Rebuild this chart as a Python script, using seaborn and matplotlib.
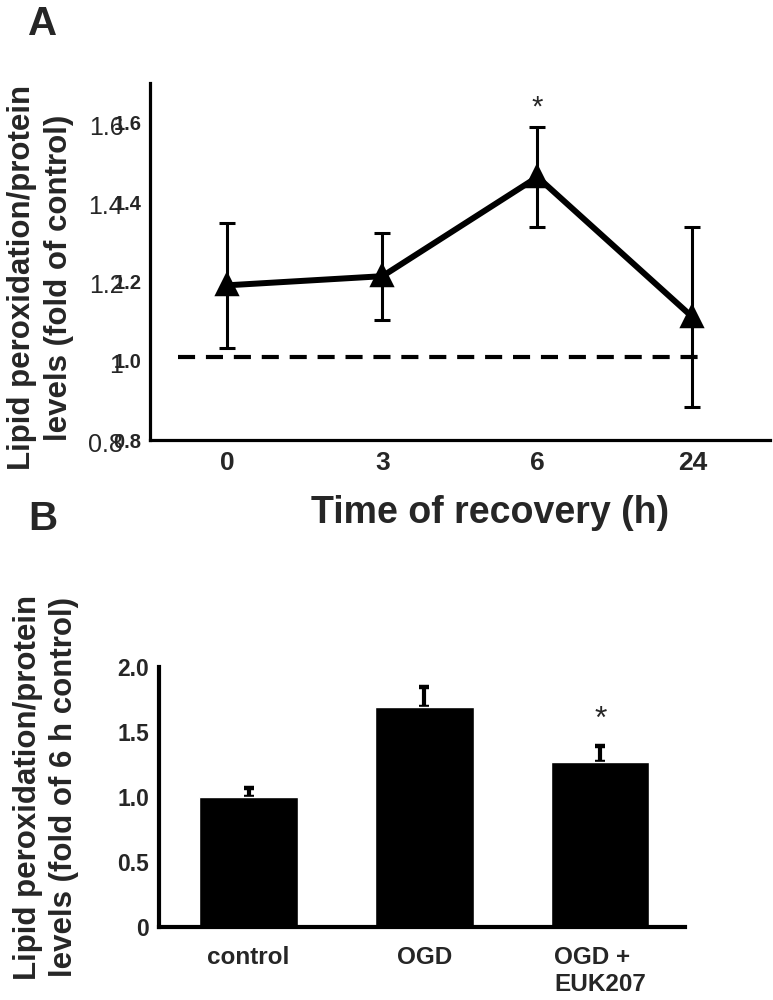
import matplotlib
matplotlib.use("Agg")
import matplotlib.pyplot as plt
import matplotlib.transforms as mtransforms
import seaborn as sns
import pandas as pd

# ---------------- data ----------------
times = ["0", "3", "6", "24"]
lipid_a = [1.19, 1.213, 1.463, 1.11]
err_a = [0.158, 0.11, 0.125, 0.226]
ref_level = 1.01
sig_a = [False, False, True, False]

yticks_a = [0.8, 1.0, 1.2, 1.4, 1.6]
yticklabels_a = ["0.8", "1.0", "1.2", "1.4", "1.6"]
yticklabels_a_alt = ["0.8", "1", "1.2", "1.4", "1.6"]

groups = ["control", "OGD", "OGD +\nEUK207"]
lipid_b = [1.0, 1.69, 1.27]
err_b = [0.07, 0.16, 0.12]
sig_b = [False, False, True]
yticks_b = [0, 0.5, 1.0, 1.5, 2.0]
yticklabels_b = ["0", "0.5", "1.0", "1.5", "2.0"]

# ---------------- style ----------------
sns.set_style("white")
plt.rcParams["font.family"] = ["Liberation Sans", "DejaVu Sans"]
plt.rcParams["font.weight"] = "bold"

fig = plt.figure(figsize=(7.73, 10), dpi=100)
axA = fig.add_axes([0.194, 0.56, 0.802, 0.357])
axB = fig.add_axes([0.2057, 0.073, 0.680, 0.26])

# ---------------- panel A ----------------
dfA = pd.DataFrame({"time": times, "value": lipid_a})
sns.pointplot(data=dfA, x="time", y="value", order=times, color="black",
              markers="^", linestyles="-", errorbar=None, ax=axA,
              markersize=12.5, linewidth=4.3)
axA.errorbar(x=list(range(len(times))), y=lipid_a, yerr=err_a, fmt="none",
             ecolor="black", elinewidth=2.2, capsize=5.5, capthick=2.2, zorder=1)
axA.hlines(ref_level, -0.32, 3.1, colors="black", linestyles=(0, (4.1, 2.6)),
           linewidth=3)
for i, s in enumerate(sig_a):
    if s:
        axA.text(i, lipid_a[i] + err_a[i] + 0.05, "*", ha="center", va="center",
                 fontsize=21, fontweight="normal")

axA.set_xlim(-0.5, 3.5)
axA.set_ylim(0.8, 1.7)
axA.set_yticks(yticks_a)
axA.set_yticklabels(yticklabels_a, fontsize=14.5, fontweight="bold")
axA.set_xticks(range(len(times)))
axA.set_xticklabels(times, fontsize=19, fontweight="bold")
axA.tick_params(axis="y", direction="in", length=7, width=2.5, pad=6)
axA.tick_params(axis="x", direction="in", length=8, width=1.5, pad=8)
sns.despine(ax=axA)
for sp in ["left", "bottom"]:
    axA.spines[sp].set_linewidth(2.3)
    axA.spines[sp].set_color("black")

# duplicated (overprinted) larger regular tick labels, as in the original
trans = mtransforms.blended_transform_factory(axA.transAxes, axA.transData)
trans = mtransforms.offset_copy(trans, fig=fig, x=0, y=-5, units="dots")
for v, t in zip(yticks_a, yticklabels_a_alt):
    axA.text(-0.043, v, t, transform=trans, ha="right", va="center",
             fontsize=18, fontweight="normal", clip_on=False)

axA.set_xlabel("Time of recovery (h)", fontsize=27, fontweight="bold", va="center")
axA.xaxis.set_label_coords(0.548, -0.204)
axA.set_ylabel("Lipid peroxidation/protein\nlevels (fold of control)",
               fontsize=22.5, fontweight="bold", linespacing=1.3, va="center")
axA.yaxis.set_label_coords(-0.177, 0.454)

# ---------------- panel B ----------------
dfB = pd.DataFrame({"group": groups, "value": lipid_b})
sns.barplot(data=dfB, x="group", y="value", order=groups, color="black",
            saturation=1, width=0.56, errorbar=None, ax=axB)
axB.errorbar(x=list(range(len(groups))), y=lipid_b,
             yerr=[[0] * len(err_b), err_b], fmt="none", ecolor="black",
             elinewidth=3, capsize=3.5, capthick=3.2, zorder=0)
for i, s in enumerate(sig_b):
    if s:
        axB.text(i, lipid_b[i] + err_b[i] + 0.2, "*", ha="center", va="center",
                 fontsize=23, fontweight="normal")

axB.set_xlim(-0.51, 2.48)
axB.set_ylim(0, 2.0)
axB.set_yticks(yticks_b)
axB.set_yticklabels(yticklabels_b, fontsize=16.5, fontweight="bold")
axB.set_xticks(range(len(groups)))
axB.set_xticklabels(groups, fontsize=17.5, fontweight="bold")
for lab in axB.get_xticklabels():
    lab.set_multialignment("left")
axB.tick_params(axis="y", direction="in", length=6.5, width=3, pad=7)
axB.tick_params(axis="x", length=0, pad=14)
axB.set_xlabel("")
sns.despine(ax=axB)
for sp in ["left", "bottom"]:
    axB.spines[sp].set_linewidth(3)
    axB.spines[sp].set_color("black")
axB.set_ylabel("Lipid peroxidation/protein\nlevels (fold of 6 h control)",
               fontsize=22.5, fontweight="bold", linespacing=1.3, va="center")
axB.yaxis.set_label_coords(-0.215, 0.537)

# panel letters
fig.text(0.036, 0.965, "A", fontsize=29, fontweight="bold", ha="left", va="baseline")
fig.text(0.036, 0.47, "B", fontsize=29, fontweight="bold", ha="left", va="baseline")

fig.savefig("out.png", dpi=100, facecolor="white")
